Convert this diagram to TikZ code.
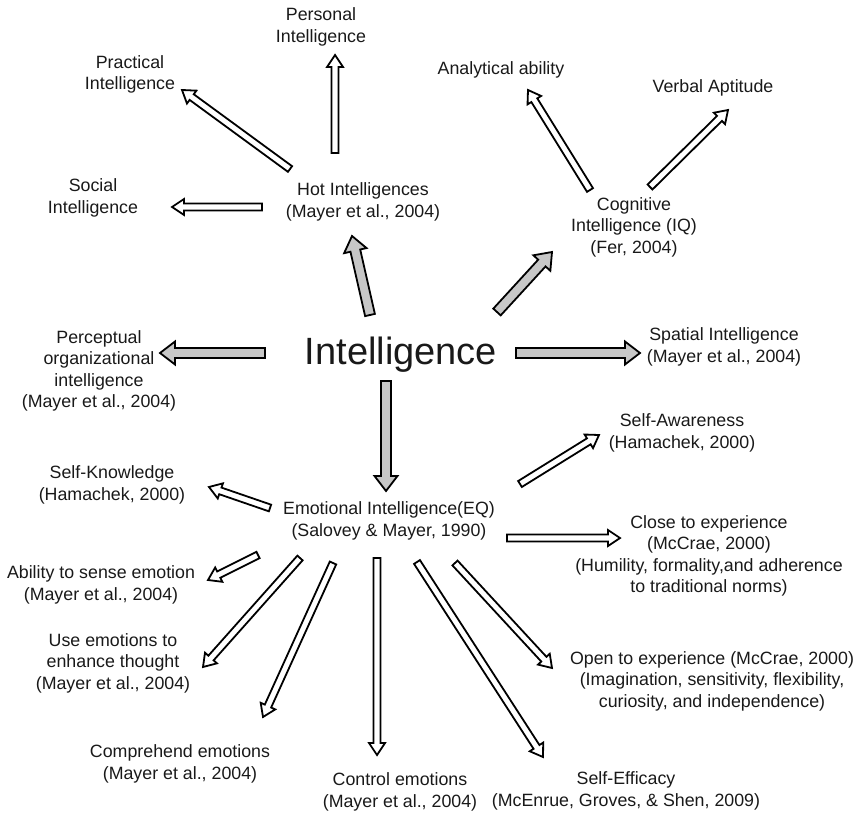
\documentclass[tikz,border=0pt]{standalone}
\usepackage{fontspec}
\setmainfont{Liberation Sans}
\usetikzlibrary{calc}

\begin{document}
\begin{tikzpicture}[x=1pt,y=-1pt,
    lbl/.style={align=center,inner sep=0pt,text=black!90,
      font=\fontsize{17.8}{21.5}\selectfont},
    blk/.style n args={3}{line width=1.8pt,line join=miter,to path={
      let \p1=(\tikztostart), \p2=(\tikztotarget),
          \p3=($(\p2)!#2!(\p1)$)
      in ($(\p1)!#1!90:(\p2)$) -- ($(\p3)!#1!90:(\p2)$)
         -- ($(\p3)!#3!90:(\p2)$) -- (\p2)
         -- ($(\p3)!#3!-90:(\p2)$) -- ($(\p3)!#1!-90:(\p2)$)
         -- ($(\p1)!#1!-90:(\p2)$) -- cycle}},
    grayarrow/.style={blk={5pt}{15pt}{11.5pt},fill=black!22},
    whitearrow/.style={blk={3.5pt}{12pt}{8pt},fill=white}]
    \useasboundingbox (0,0) rectangle (854,813);

    \node[lbl,font=\fontsize{38}{44}\selectfont] (intel) at (401,355) {Intelligence};

    \node[lbl] (hot)   at (363,202) {Hot Intelligences\\(Mayer et al., 2004)};
    \node[lbl] (pers)  at (321,27)  {Personal\\Intelligence};
    \node[lbl] (prac)  at (130,74.5) {Practical\\Intelligence};
    \node[lbl] (soc)   at (93,198)  {Social\\Intelligence};

    \node[lbl] (cog)   at (634,227) {Cognitive\\Intelligence (IQ)\\(Fer, 2004)};
    \node[lbl] (anal)  at (501,70)  {Analytical ability};
    \node[lbl] (verb)  at (713,88)  {Verbal Aptitude};

    \node[lbl] (perc)  at (99,371)  {Perceptual\\organizational\\intelligence\\(Mayer et al., 2004)};
    \node[lbl] (spat)  at (724,347) {Spatial Intelligence\\(Mayer et al., 2004)};

    \node[lbl] (emo)   at (389,521) {Emotional Intelligence(EQ)\\(Salovey \& Mayer, 1990)};
    \node[lbl] (aware) at (682,433) {Self-Awareness\\(Hamachek, 2000)};
    \node[lbl] (know)  at (112,485) {Self-Knowledge\\(Hamachek, 2000)};
    \node[lbl] (close) at (709,556) {Close to experience\\(McCrae, 2000)\\(Humility, formality,and adherence\\to traditional norms)};
    \node[lbl] (abil)  at (101,585) {Ability to sense emotion\\(Mayer et al., 2004)};
    \node[lbl] (use)   at (113,663) {Use emotions to\\enhance thought\\(Mayer et al., 2004)};
    \node[lbl] (open)  at (712,681) {Open to experience (McCrae, 2000)\\(Imagination, sensitivity, flexibility,\\curiosity, and independence)};
    \node[lbl] (comp)  at (180,764) {Comprehend emotions\\(Mayer et al., 2004)};
    \node[lbl] (ctrl)  at (400,792) {Control emotions\\(Mayer et al., 2004)};
    \node[lbl] (eff)   at (626,791) {Self-Efficacy\\(McEnrue, Groves, \& Shen, 2009)};

    \draw[grayarrow] ([shift={(-31,-40)}]intel.center) to ([shift={(-11,34)}]hot.center);
    \draw[grayarrow] ([shift={(96,-43)}]intel.center)  to ([shift={(-82,25)}]cog.center);
    \draw[grayarrow] ([shift={(-136,-2)}]intel.center) to ([shift={(61,-18)}]perc.center);
    \draw[grayarrow] ([shift={(115,-2)}]intel.center)  to ([shift={(-84,6)}]spat.center);
    \draw[grayarrow] ([shift={(-15,26)}]intel.center)  to ([shift={(-3,-30)}]emo.center);

    \draw[whitearrow] ([shift={(-28,-49)}]hot.center) to ([shift={(14,28)}]pers.center);
    \draw[whitearrow] ([shift={(-73,-33)}]hot.center) to ([shift={(52,15.5)}]prac.center);
    \draw[whitearrow] ([shift={(-101,5)}]hot.center)  to ([shift={(79,9)}]soc.center);

    \draw[whitearrow] ([shift={(-44,-37)}]cog.center) to ([shift={(27,20)}]anal.center);
    \draw[whitearrow] ([shift={(16,-40)}]cog.center)  to ([shift={(15,22)}]verb.center);

    \draw[whitearrow] ([shift={(131,-37)}]emo.center) to ([shift={(-83,2)}]aware.center);
    \draw[whitearrow] ([shift={(-119,-13)}]emo.center) to ([shift={(97,2)}]know.center);
    \draw[whitearrow] ([shift={(118,17)}]emo.center)  to ([shift={(-89,-18)}]close.center);
    \draw[whitearrow] ([shift={(-131,34)}]emo.center) to ([shift={(107,-5)}]abil.center);
    \draw[whitearrow] ([shift={(-89,37)}]emo.center)  to ([shift={(90,4)}]use.center);
    \draw[whitearrow] ([shift={(-56,42)}]emo.center)  to ([shift={(83,-47)}]comp.center);
    \draw[whitearrow] ([shift={(-12,37)}]emo.center)  to ([shift={(-23,-37)}]ctrl.center);
    \draw[whitearrow] ([shift={(28,41)}]emo.center)   to ([shift={(-83,-34)}]eff.center);
    \draw[whitearrow] ([shift={(66,42)}]emo.center)   to ([shift={(-160,-13)}]open.center);
\end{tikzpicture}
\end{document}
